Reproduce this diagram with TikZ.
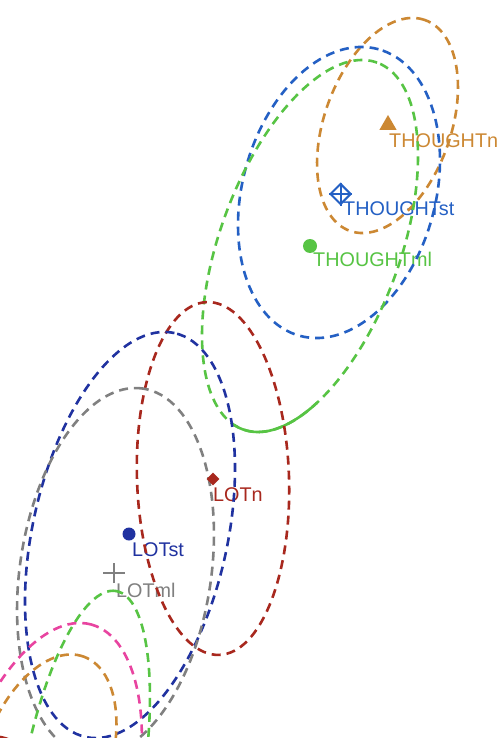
\documentclass[tikz,border=0pt]{standalone}
\usepackage{fontspec}
\setmainfont{Liberation Sans}
\usetikzlibrary{shapes.geometric}
\definecolor{corange}{RGB}{204,136,51}
\definecolor{cblue}{RGB}{36,96,196}
\definecolor{cgreen}{RGB}{87,196,68}
\definecolor{cred}{RGB}{168,40,30}
\definecolor{cnavy}{RGB}{32,50,160}
\definecolor{cgray}{RGB}{128,128,128}
\definecolor{cpink}{RGB}{232,68,160}
\begin{document}
\begin{tikzpicture}[x=1pt,y=-1pt,
  ell/.style={line width=2.6pt, dash pattern=on 9pt off 6pt},
  lbl/.style={anchor=base west, inner sep=0pt, font=\fontsize{19.8}{20}\selectfont},
  dot/.style={circle, inner sep=0pt, minimum size=#1},
]
\useasboundingbox (0,0) rectangle (500,738);
\fill[white] (0,0) rectangle (500,738);
% labels
\node[lbl, text=corange] (lThn) at (389,148) {THOUGHTn};
\node[lbl, text=cblue] (lThst) at (343,215) {THOUGHTst};
\node[lbl, text=cgreen] (lThml) at (313,266) {THOUGHTml};
\node[lbl, text=cred] (lLn) at (213,501) {LOTn};
\node[lbl, text=cnavy] (lLst) at (132,556) {LOTst};
\node[lbl, text=cgray] (lLml) at (116,597) {LOTml};
% ellipses
\begin{scope}
\clip (0,0) rectangle (500,738);
\draw[ell, corange, rotate around={70.4:(387.5,125.5)}] (387.5,125.5) ellipse [x radius=111.9pt, y radius=63.3pt];
\draw[ell, cblue, rotate around={74.6:(339,192.5)}] (339,192.5) ellipse [x radius=148.6pt, y radius=96.4pt];
\draw[ell, cgreen, rotate around={69.9:(310,246)}] (310,246) ellipse [x radius=195.3pt, y radius=90.1pt];
\draw[line width=2.6pt, cgreen] plot[domain=174:222, samples=40]
  ({310 + 195.3*cos(\x)*0.3437 - 90.1*sin(\x)*0.9391}, {246 - 195.3*cos(\x)*0.9391 - 90.1*sin(\x)*0.3437});
\draw[ell, cred, rotate around={92:(213,478.5)}] (213,478.5) ellipse [x radius=176.5pt, y radius=76pt];
\draw[ell, cnavy, rotate around={77.6:(130,535)}] (130,535) ellipse [x radius=206.8pt, y radius=97.4pt];
\draw[ell, cgray, rotate around={81.5:(115.5,572)}] (115.5,572) ellipse [x radius=185.5pt, y radius=95.6pt];
\draw[ell, cgreen, rotate around={80:(81.4,788)}] (81.4,788) ellipse [x radius=200pt, y radius=60pt];
\draw[ell, cpink, rotate around={75:(42,808)}] (42,808) ellipse [x radius=190pt, y radius=90pt];
\draw[ell, corange, rotate around={70.4:(46,762)}] (46,762) ellipse [x radius=111.9pt, y radius=63.3pt];
\draw[ell, cred, rotate around={92:(0,913)}] (0,913) ellipse [x radius=176.5pt, y radius=76pt];
\end{scope}
% markers
\node[regular polygon, regular polygon sides=3, fill=corange, minimum size=20pt, inner sep=0pt] (mThn) at (388,125) {};
\node[diamond, draw=cblue, line width=2pt, minimum size=21pt, inner sep=0pt] (mThst) at (340.5,194) {};
\draw[cblue, line width=2pt] (mThst.north) -- (mThst.south) (mThst.west) -- (mThst.east);
\node[dot=14pt, fill=cgreen] (mThml) at (310,246) {};
\node[diamond, fill=cred, minimum size=13pt, inner sep=0pt] (mLn) at (213,479) {};
\node[dot=13pt, fill=cnavy] (mLst) at (129,534) {};
\coordinate (mLml) at (114,573);
\draw[cgray, line width=2.4pt] ([xshift=-11pt]mLml) -- ([xshift=11pt]mLml) ([yshift=-10pt]mLml) -- ([yshift=10pt]mLml);
\end{tikzpicture}
\end{document}
